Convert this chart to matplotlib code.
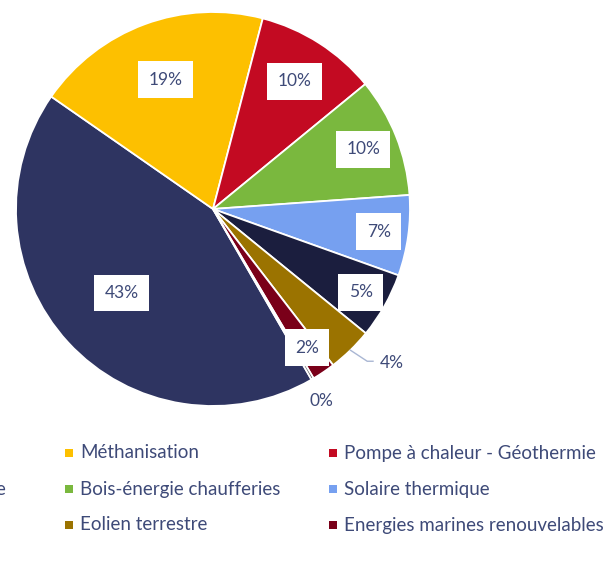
import numpy as np
import matplotlib.pyplot as plt
from matplotlib.patches import Rectangle

plt.rcParams['font.family'] = ['Lato', 'DejaVu Sans']

# slices, clockwise, first one starting at the lower right
names = ['Hydroélectricité', 'Méthanisation', 'Pompe à chaleur - Géothermie',
         'Bois-énergie chaufferies', 'Solaire thermique', 'Solaire photovoltaïque',
         'Eolien terrestre', 'Energies marines renouvelables', 'Géothermie profonde']
values = [43.0, 19.4, 10.0, 9.8, 6.6, 5.4, 3.7, 1.9, 0.2]
colors = ['#2e3461', '#fdc000', '#c30a22', '#7ab83e', '#76a0f0', '#1b1e3e',
          '#9b7300', '#7a0019', '#4a4a4a']
# label distance (fraction of radius); >1 means outside without a box
label_r = [0.63, 0.70, 0.77, 0.82, 0.85, 0.86, 1.20, 0.85, 1.12]
label_da = [0, 0, 0, 0, 0, 0, 5, 0, -1]  # degrees shift of outside labels

# legend rows (first column is mostly off the canvas)
legend_rows = [
    [0, 1, 2],
    [5, 3, 4],
    [8, 6, 7],
]

W, H = 607, 567
fig = plt.figure(figsize=(W / 100, H / 100), dpi=100)
ax = fig.add_axes([0, 0, 1, 1])

cx, cy, R = 213, H - 209, 197
start = 90 - 150  # matplotlib angle of the first wedge edge
wedges, _ = ax.pie(values, colors=colors, startangle=start, counterclock=False,
                   center=(cx, cy), radius=R, frame=True,
                   wedgeprops=dict(edgecolor='white', linewidth=1.3))

txt_col = '#3e4a78'
total = sum(values)
acc = 0
for i, v in enumerate(values):
    mid = start - (acc + v / 2) / total * 360
    acc += v
    a = np.deg2rad(mid)
    lab = f'{round(v / total * 100):.0f}%'
    r = label_r[i]
    la = np.deg2rad(mid + label_da[i])
    x, y = cx + r * R * np.cos(la), cy + r * R * np.sin(la)
    if r < 1:
        ax.text(x, y, lab, ha='center', va='center', fontsize=12.5, color=txt_col,
                bbox=dict(boxstyle='square,pad=0.6', fc='white', ec='none'))
    else:
        ax.text(x, y, lab, ha='center', va='center', fontsize=12.5, color=txt_col)
        if v > 1:
            ex, ey = cx + 1.0 * R * np.cos(a), cy + 1.0 * R * np.sin(a)
            kx, ky = cx + 1.1 * R * np.cos(a + 0.02), cy + 1.1 * R * np.sin(a + 0.02)
            ax.plot([ex, kx, x - 19], [ey, ky, ky], color='#a9b6d3', lw=1)

# legend
col_x = [-230, 69, 333]
row_y = [H - 453, H - 489, H - 525]
for ri, row in enumerate(legend_rows):
    for ci, idx in enumerate(row):
        mx, my = col_x[ci], row_y[ri]
        ax.add_patch(Rectangle((mx - 4, my - 4), 8, 8, color=colors[idx], lw=0))
        t = ax.text(mx + 11, my, names[idx], ha='left', va='center', fontsize=13.5,
                    color=txt_col)
        if ri == 1 and ci == 0:
            # the long first-column item ends just inside the left edge
            t.set_x(6)
            t.set_ha('right')

ax.set_xlim(0, W)
ax.set_ylim(0, H)
ax.set_aspect('auto')
ax.axis('off')

fig.savefig('out.png', dpi=100)
